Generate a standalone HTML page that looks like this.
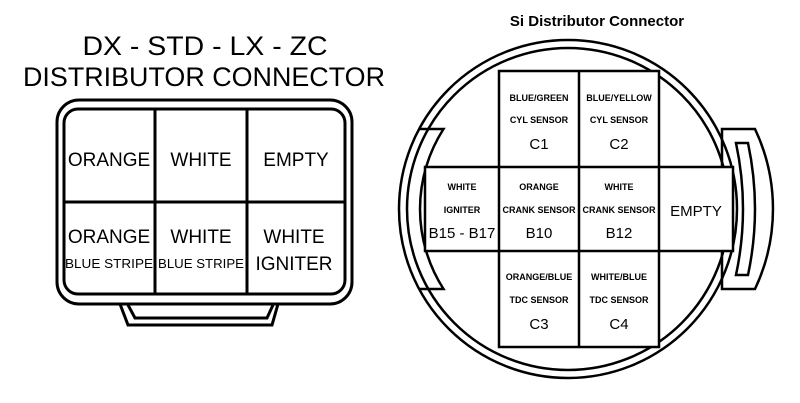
<!DOCTYPE html>
<html><head><meta charset="utf-8"><style>
html,body{margin:0;padding:0;background:#fff;}
svg{display:block}
text{font-family:"Liberation Sans",Arial,sans-serif;fill:#000;text-anchor:middle}
</style></head><body>
<svg width="800" height="403" viewBox="0 0 800 403" xmlns="http://www.w3.org/2000/svg">
<g font-size="27">
<text x="205" y="55" textLength="245" lengthAdjust="spacingAndGlyphs">DX - STD - LX - ZC</text>
<text x="204" y="86" textLength="362" lengthAdjust="spacingAndGlyphs">DISTRIBUTOR CONNECTOR</text>
</g>
<g fill="none" stroke="#000" stroke-width="3">
<path d="M120 304 L128 325 L272 325 L278 304"/>
<path d="M128 305 L135 318 L267 318 L273 305"/>
<rect x="57" y="100" width="295" height="204" rx="22"/>
<rect x="64" y="109" width="281" height="185" rx="14"/>
<line x1="155" y1="109" x2="155" y2="294"/>
<line x1="247" y1="109" x2="247" y2="294"/>
<line x1="64" y1="202" x2="345" y2="202"/>
</g>
<g font-size="19">
<text x="109" y="166">ORANGE</text>
<text x="201" y="166">WHITE</text>
<text x="296" y="166">EMPTY</text>
<text x="109" y="243">ORANGE</text>
<text x="201" y="243">WHITE</text>
<text x="294" y="243">WHITE</text>
<text x="294" y="270">IGNITER</text>
</g>
<g font-size="13">
<text x="109" y="268" textLength="88" lengthAdjust="spacingAndGlyphs">BLUE STRIPE</text>
<text x="201" y="268" textLength="86" lengthAdjust="spacingAndGlyphs">BLUE STRIPE</text>
</g>

<text x="597" y="26" font-size="15" font-weight="bold">Si Distributor Connector</text>
<g fill="#fff" stroke="#000" stroke-width="2.5">
<path d="M722 129 L755 129 A187 187 0 0 1 755 289 L722 289 Z"/>
</g>
<g fill="none" stroke="#000" stroke-width="2.5">
<circle cx="568" cy="209" r="169"/>
<circle cx="568" cy="209" r="161"/>
<path d="M419 129 L443.5 129 A148 148 0 0 0 443.5 289 L419 289"/>
<path d="M736 143 L748 143 Q762 209 748 275 L736 275 Q750 209 736 143 Z" fill="#fff"/>
<rect x="499" y="71" width="160" height="276" fill="#fff"/>
<rect x="425" y="167" width="308" height="84" fill="#fff"/>
<line x1="579" y1="71" x2="579" y2="347"/>
<line x1="499" y1="167" x2="499" y2="251"/>
<line x1="659" y1="167" x2="659" y2="251"/>
</g>
<g font-size="9" font-weight="bold">
<text x="539" y="101">BLUE/GREEN</text>
<text x="619" y="101">BLUE/YELLOW</text>
<text x="539" y="123">CYL SENSOR</text>
<text x="619" y="123">CYL SENSOR</text>
<text x="462" y="190">WHITE</text>
<text x="462" y="213">IGNITER</text>
<text x="539" y="190">ORANGE</text>
<text x="539" y="213">CRANK SENSOR</text>
<text x="619" y="190">WHITE</text>
<text x="619" y="213">CRANK SENSOR</text>
<text x="539" y="280">ORANGE/BLUE</text>
<text x="539" y="303">TDC SENSOR</text>
<text x="619" y="280">WHITE/BLUE</text>
<text x="619" y="303">TDC SENSOR</text>
</g>
<g font-size="15">
<text x="539" y="149">C1</text>
<text x="619" y="149">C2</text>
<text x="462" y="238">B15 - B17</text>
<text x="539" y="238">B10</text>
<text x="619" y="238">B12</text>
<text x="696" y="216">EMPTY</text>
<text x="539" y="329">C3</text>
<text x="619" y="329">C4</text>
</g>
</svg>
</body></html>
